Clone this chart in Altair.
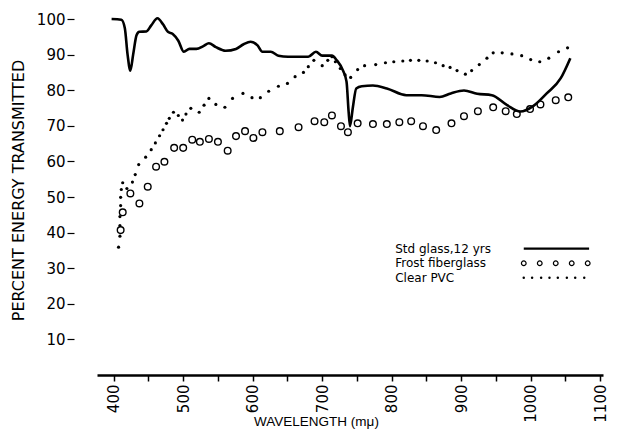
import altair as alt
import pandas as pd

# ---- data ----
glass_wl = [397, 411, 416, 420, 424, 428, 433, 437, 447, 454, 463, 471, 478, 485, 493, 501,
            509, 519, 529, 537, 547, 561, 576, 587, 597, 607, 614, 626, 637, 651, 671, 680,
            691, 700, 714, 721, 730, 735, 738, 740, 744, 749, 757, 773, 793, 821, 843, 869,
            885, 904, 923, 944, 966, 985, 1004, 1023, 1043, 1057]
glass_pct = [100, 99.8, 97.5, 90, 85.5, 90, 95.5, 96.4, 96.5, 98.2, 100.2, 98.5, 96.4, 95.8, 93.9, 90.8,
             91.6, 91.6, 92.4, 93.2, 92.1, 91.1, 91.6, 92.9, 93.6, 92.6, 90.8, 90.8, 89.7, 89.4, 89.4, 89.4,
             90.8, 89.7, 89.7, 88.4, 85.5, 82.4, 74, 69.9, 75, 80.5, 81.1, 81.3, 80.5, 78.6, 78.6, 78.1,
             79.1, 79.9, 79.0, 78.6, 75.8, 74.0, 75.6, 79.1, 83.3, 89.0]

frost_wl = [410, 413, 424, 437, 449, 461, 473, 487, 500, 513, 524, 537, 550, 564, 576, 589,
            601, 614, 639, 666, 689, 703, 714, 727, 737, 751, 773, 793, 811, 828, 845, 864,
            886, 904, 924, 946, 964, 980, 999, 1014, 1036, 1054]
frost_pct = [40.7, 45.7, 51.0, 48.2, 52.9, 58.5, 59.9, 63.8, 63.8, 66.1, 65.5, 66.3, 65.5, 63.0, 67.1, 68.5,
             66.6, 68.2, 68.5, 69.6, 71.3, 71.0, 72.9, 69.9, 68.2, 70.7, 70.5, 70.5, 71.0, 71.3, 69.9, 68.8,
             70.7, 72.7, 74.1, 75.2, 74.1, 73.3, 74.7, 76.0, 77.2, 78.0]

pvc_wl = [407, 409, 409, 409, 410, 410, 411, 413, 419, 427, 431, 436, 446, 454, 460, 466,
          471, 476, 480, 486, 493, 499, 504, 511, 523, 530, 537, 547, 560, 571, 586, 599,
          611, 623, 637, 650, 661, 673, 680, 688, 700, 708, 714, 719, 726, 733, 741, 751,
          761, 777, 791, 803, 816, 827, 839, 851, 863, 874, 884, 894, 906, 915, 926, 937,
          946, 959, 973, 987, 1000, 1013, 1026, 1040, 1053]
pvc_pct = [35.9, 39, 42, 44.5, 47.6, 49.9, 52.1, 54, 52.4, 54.2, 56.3, 59.1, 61.2, 63.3, 65.2, 67.2,
           68.9, 70.7, 72.1, 73.8, 72.9, 71.6, 73.3, 74.9, 73.8, 75.8, 77.7, 76.0, 75.2, 77.7, 79.1, 77.9,
           77.9, 79.7, 81.1, 81.9, 83.8, 85.0, 86.6, 88.4, 86.9, 88.4, 89.4, 88.0, 86.1, 84.3, 83.6, 85.8,
           86.9, 87.2, 87.7, 88.0, 88.2, 88.4, 88.4, 88.2, 87.7, 86.9, 86.4, 85.5, 84.5, 85.5, 87.2, 89.0,
           90.5, 90.5, 90.2, 89.7, 88.6, 88.0, 89.0, 90.8, 91.9]

x_ticks = list(range(400, 1101, 50))
y_ticks = list(range(10, 101, 10))

legend_labels = ["Std glass,12 yrs", "Frost fiberglass", "Clear  PVC"]
legend_y = [35.5, 31.4, 27.3]
legend_text_x = 805
legend_line_x = [990, 1084]
legend_circle_x = [990, 1013, 1036, 1059, 1082]
legend_dot_x = [990, 1002, 1015, 1027, 1039, 1052, 1064, 1077]

FONT = "DejaVu Sans"
TFONT = "Liberation Sans"

glass = pd.DataFrame({"wl": glass_wl, "pct": glass_pct})
frost = pd.DataFrame({"wl": frost_wl, "pct": frost_pct})
pvc = pd.DataFrame({"wl": pvc_wl, "pct": pvc_pct})

x_scale = alt.Scale(domain=[376, 1104], nice=False, zero=False)
y_scale = alt.Scale(domain=[0, 100], nice=False)

x_axis = alt.Axis(
    values=x_ticks, tickCount=len(x_ticks), format="d", labelOverlap=False,
    labelExpr="datum.value % 100 == 0 ? datum.label : ''",
    labelAngle=270, labelAlign="right", labelBaseline="middle", labelPadding=3,
    labelFontSize=15, labelFont=FONT, labelColor="black", labelFlush=False,
    tickSize=6, tickWidth=1.5, tickColor="black",
    domainWidth=2.5, domainColor="black", grid=False,
    title="WAVELENGTH (mμ)", titleFont=TFONT, titleFontSize=13.5, titleFontWeight="normal",
    titleColor="black", titleX=219, titleY=50, titleBaseline="alphabetic",
)
y_axis = alt.Axis(
    values=y_ticks, tickCount=len(y_ticks), domain=False, offset=23, tickSize=7, tickWidth=1.2,
    tickColor="black", labelPadding=2, labelFontSize=15, labelFont=FONT, labelColor="black",
    grid=False, labelOverlap=False, labelFlush=False,
    title="PERCENT ENERGY TRANSMITTED", titleFont=FONT, titleFontSize=16,
    titleFontWeight="normal", titleColor="black", titleX=-48, titleY=171,
)

X = alt.X("wl:Q", scale=x_scale, axis=x_axis)
Y = alt.Y("pct:Q", scale=y_scale, axis=y_axis)

line = alt.Chart(glass).mark_line(color="black", strokeWidth=2.6, interpolate="monotone").encode(x=X, y=Y)
circles = alt.Chart(frost).mark_point(shape="circle", filled=False, color="black", size=44,
                                      strokeWidth=1.4, opacity=1).encode(x=X, y=Y)
dots = alt.Chart(pvc).mark_point(shape="circle", filled=True, color="black", size=10,
                                 opacity=1).encode(x=X, y=Y)

# legend
leg_text = pd.DataFrame({"label": legend_labels, "wl": [legend_text_x] * 3, "pct": legend_y})
leg_line = pd.DataFrame({"wl": legend_line_x, "pct": [legend_y[0]] * 2})
leg_circ = pd.DataFrame({"wl": legend_circle_x, "pct": [legend_y[1]] * len(legend_circle_x)})
leg_dot = pd.DataFrame({"wl": legend_dot_x, "pct": [legend_y[2]] * len(legend_dot_x)})

t = alt.Chart(leg_text).mark_text(align="left", baseline="middle", font=FONT, fontSize=12,
                                   color="black").encode(x=X, y=Y, text="label:N")
l = alt.Chart(leg_line).mark_line(color="black", strokeWidth=2.2).encode(x=X, y=Y)
c = alt.Chart(leg_circ).mark_point(shape="circle", filled=False, color="black", size=22,
                                   strokeWidth=1.2, opacity=1).encode(x=X, y=Y)
d = alt.Chart(leg_dot).mark_point(shape="circle", filled=True, color="black", size=6,
                                  opacity=1).encode(x=X, y=Y)

chart = alt.layer(line, circles, dots, t, l, c, d).properties(
    width=506, height=356,
    autosize=alt.AutoSizeParams(type="none"),
    padding={"left": 89, "top": 11, "right": 6, "bottom": 54},
    background="white",
).configure_view(stroke=None)

chart.save("out.html", embed_options={"renderer": "svg", "actions": False})
